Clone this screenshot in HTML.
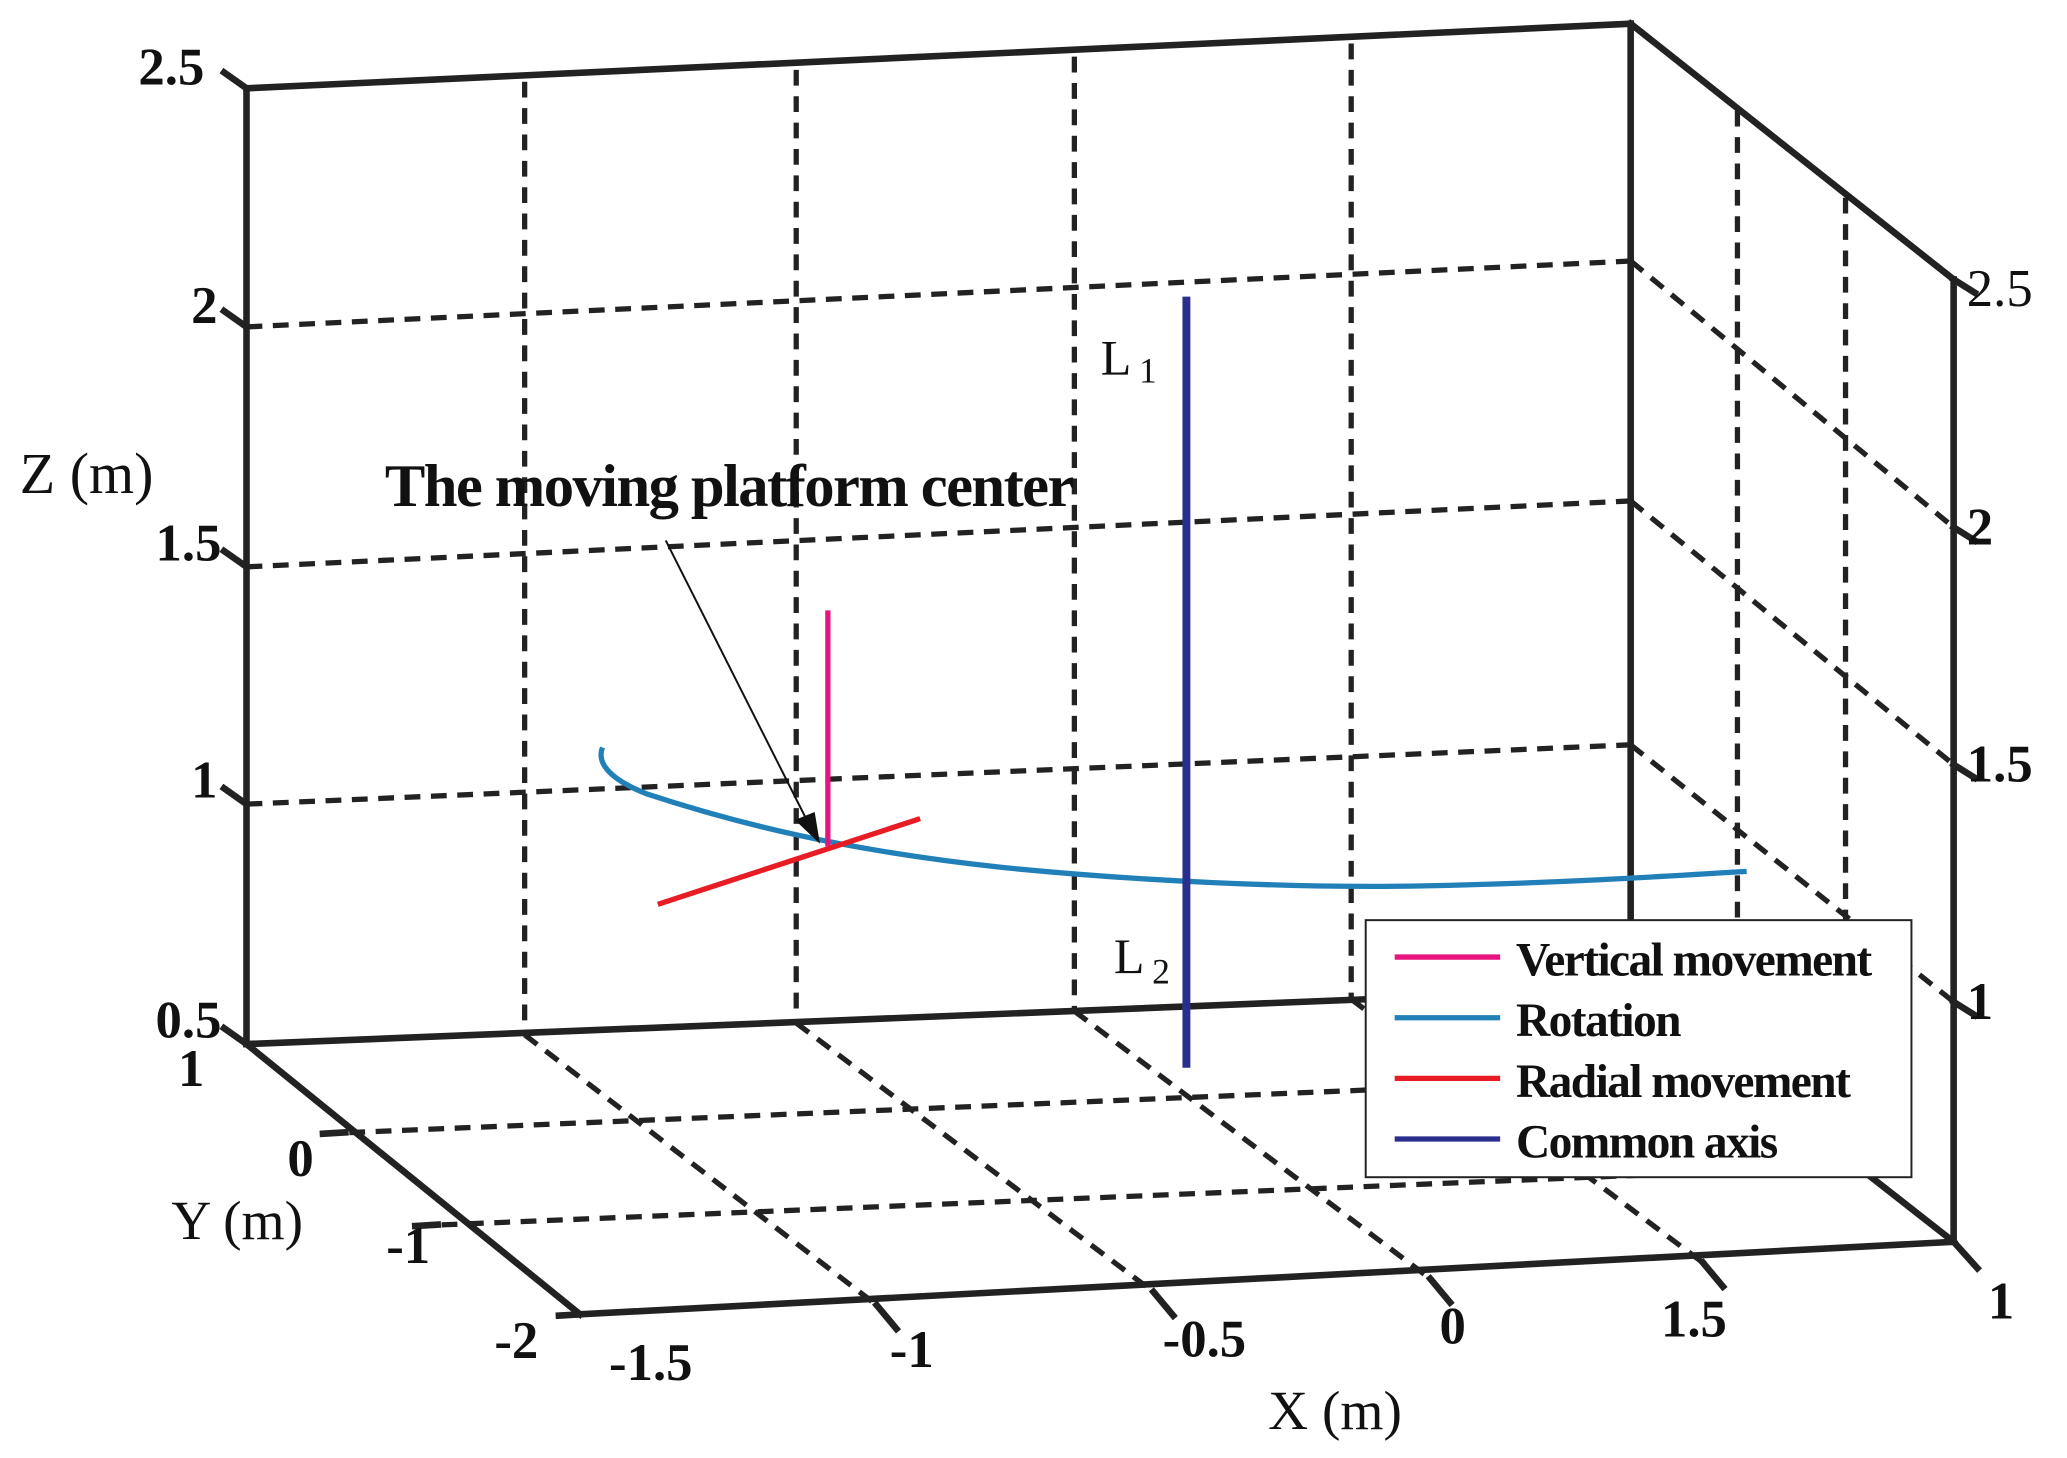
<!DOCTYPE html>
<html><head><meta charset="utf-8"><style>
html,body{margin:0;padding:0;background:#fff}
svg{display:block}
text{font-family:"Liberation Serif",serif;fill:#111}
.b{font-weight:bold}
</style></head><body>
<svg width="2067" height="1458" viewBox="0 0 1568 1106" preserveAspectRatio="none">
<g stroke="#222" stroke-width="4" stroke-dasharray="12,8" fill="none">
<line x1="187" y1="610" x2="1237" y2="565"/>
<line x1="187" y1="430" x2="1237" y2="380"/>
<line x1="187" y1="248" x2="1237" y2="198"/>
<line x1="1237" y1="565" x2="1482" y2="760"/>
<line x1="1237" y1="380" x2="1482" y2="580"/>
<line x1="1237" y1="198" x2="1482" y2="400"/>
<line x1="398" y1="62" x2="398" y2="785"/>
<line x1="604" y1="53" x2="604" y2="776"/>
<line x1="815" y1="43" x2="815" y2="767"/>
<line x1="1025" y1="33" x2="1025" y2="758"/>
<line x1="1318" y1="84" x2="1318" y2="815"/>
<line x1="1400" y1="150" x2="1400" y2="880"/>
<line x1="398" y1="785" x2="665" y2="990"/>
<line x1="604" y1="776" x2="875" y2="980"/>
<line x1="815" y1="767" x2="1085" y2="970"/>
<line x1="1025" y1="758" x2="1292" y2="958"/>
<line x1="245" y1="860" x2="1320" y2="815"/>
<line x1="315" y1="930" x2="1400" y2="885"/>
</g>
<g stroke="#222" stroke-width="5" fill="none" stroke-linecap="square">
<line x1="187" y1="67" x2="187" y2="792"/>
<line x1="187" y1="67" x2="1237" y2="18"/>
<line x1="1237" y1="18" x2="1237" y2="760"/>
<line x1="1237" y1="18" x2="1482" y2="212"/>
<line x1="1482" y1="212" x2="1482" y2="942"/>
<line x1="187" y1="792" x2="1237" y2="750"/>
<line x1="187" y1="792" x2="440" y2="997"/>
<line x1="440" y1="997" x2="1482" y2="942"/>
<line x1="1237" y1="750" x2="1482" y2="942"/>
<line x1="187" y1="67" x2="170" y2="55"/>
<line x1="187" y1="248" x2="170" y2="236"/>
<line x1="187" y1="430" x2="170" y2="418"/>
<line x1="187" y1="610" x2="170" y2="598"/>
<line x1="187" y1="792" x2="170" y2="780"/>
<line x1="1482" y1="212" x2="1498" y2="222"/>
<line x1="1482" y1="400" x2="1498" y2="410"/>
<line x1="1482" y1="580" x2="1498" y2="590"/>
<line x1="1482" y1="760" x2="1498" y2="770"/>
<line x1="1482" y1="942" x2="1500" y2="962"/>
<line x1="665" y1="990" x2="680" y2="1008"/>
<line x1="875" y1="980" x2="890" y2="998"/>
<line x1="1085" y1="970" x2="1100" y2="988"/>
<line x1="1292" y1="958" x2="1307" y2="976"/>
<line x1="440" y1="997" x2="424" y2="998"/>
<line x1="245" y1="860" x2="262" y2="859"/>
<line x1="315" y1="930" x2="332" y2="929"/>
</g>
<path d="M457,567 C452,580 465,592 490,602 C560,625 640,645 760,658 C860,668 980,674 1080,672 C1180,670 1260,665 1325,661" stroke="#2180b8" stroke-width="4" fill="none"/>
<line x1="628" y1="463" x2="628" y2="642" stroke="#e8147e" stroke-width="4"/>
<line x1="499" y1="686" x2="698" y2="621" stroke="#e81c24" stroke-width="4"/>
<line x1="900" y1="225" x2="900" y2="810" stroke="#2a2e8c" stroke-width="6"/>
<line x1="505" y1="410" x2="615" y2="628" stroke="#111" stroke-width="1.5"/>
<polygon points="622,640 603,622 618,616" fill="#111"/>
<rect x="1036" y="698" width="414" height="195" fill="#fff" stroke="#222" stroke-width="1.5"/>
<g stroke-width="4">
<line x1="1058" y1="726" x2="1138" y2="726" stroke="#e8147e"/>
<line x1="1058" y1="772" x2="1138" y2="772" stroke="#2180b8"/>
<line x1="1058" y1="818" x2="1138" y2="818" stroke="#e81c24"/>
<line x1="1058" y1="864" x2="1138" y2="864" stroke="#2a2e8c"/>
</g>
<g font-size="36" style="letter-spacing:-1.2px">
<text x="1150" y="740" class="b">Vertical movement</text>
<text x="1150" y="786" class="b">Rotation</text>
<text x="1150" y="832" class="b">Radial movement</text>
<text x="1150" y="878" class="b">Common axis</text>
</g>
<text x="292" y="384" font-size="46" class="b" style="letter-spacing:-1.2px">The moving platform center</text>
<text x="835" y="284" font-size="38">L</text><text x="864" y="290" font-size="27">1</text>
<text x="845" y="738" font-size="38">L</text><text x="874" y="746" font-size="27">2</text>
<text x="15" y="374" font-size="44">Z (m)</text>
<text x="130" y="940" font-size="42">Y (m)</text>
<text x="962" y="1084" font-size="42">X (m)</text>
<g font-size="40" class="b">
<text x="105" y="64">2.5</text>
<text x="145" y="245">2</text>
<text x="118" y="425">1.5</text>
<text x="145" y="605">1</text>
<text x="118" y="787">0.5</text>
<text x="1492" y="232" font-weight="normal">2.5</text>
<text x="1492" y="413">2</text>
<text x="1492" y="593">1.5</text>
<text x="1492" y="773">1</text>
<text x="1508" y="1000">1</text>
<text x="135" y="824">1</text>
<text x="218" y="892">0</text>
<text x="293" y="958">-1</text>
<text x="375" y="1030">-2</text>
<text x="462" y="1047">-1.5</text>
<text x="675" y="1037">-1</text>
<text x="882" y="1029">-0.5</text>
<text x="1092" y="1019">0</text>
<text x="1260" y="1014">1.5</text>
</g>
</svg>
</body></html>
